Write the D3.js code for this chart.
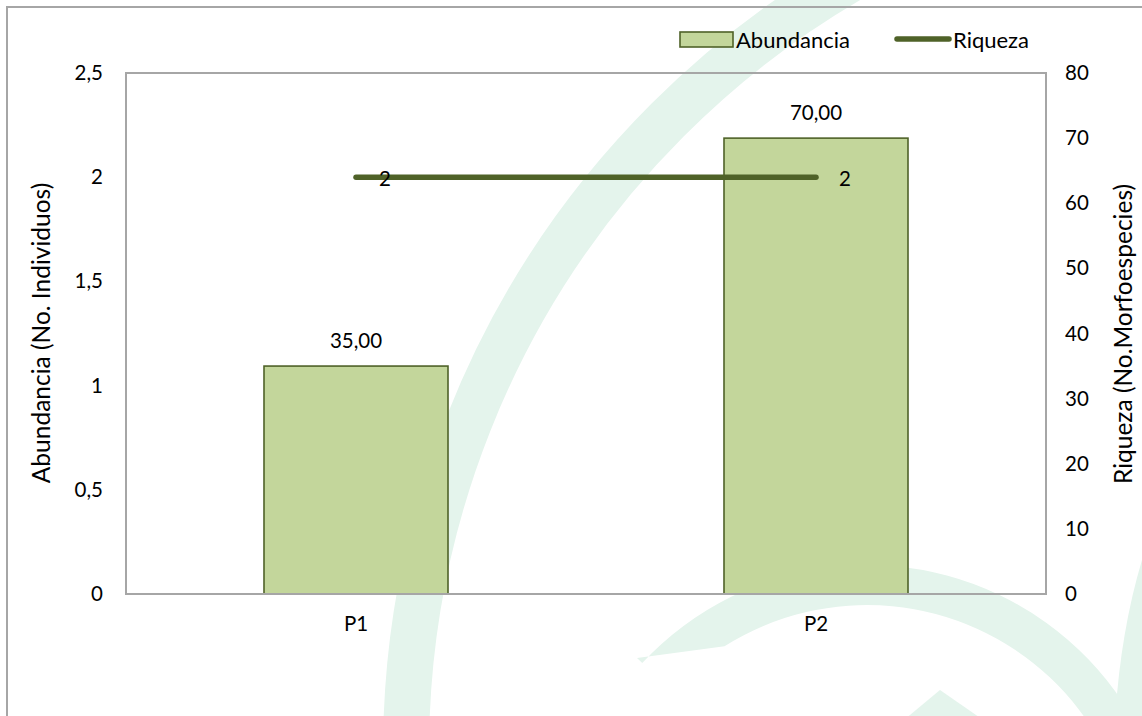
<!DOCTYPE html>
<html><head><meta charset="utf-8">
<script src="https://cdn.jsdelivr.net/npm/d3@7"></script>
<style>
html,body{margin:0;padding:0;background:#fff;}
svg{display:block;font-family:Lato, "Open Sans", sans-serif;}
</style></head>
<body>
<svg id="chart" width="1142" height="716"></svg>
<script>
const categories = ["P1", "P2"];
const abundancia = [35, 70];        // bars (right axis)
const riqueza = [2, 2];             // line (left axis)
const leftTicks = [0, 0.5, 1, 1.5, 2, 2.5];
const rightTicks = [0, 10, 20, 30, 40, 50, 60, 70, 80];
const leftTitle = "Abundancia (No. Individuos)";
const rightTitle = "Riqueza (No.Morfoespecies)";
const legendLabels = ["Abundancia", "Riqueza"];

const W = 1142, H = 716;
const plot = {l: 126, r: 1046, t: 73, b: 594};
const barFill = "#c3d69b", barStroke = "#4f6228", lineColor = "#4f6228";
const wm = "#e4f4ec";
const fs = 20.5, fsLegend = 22, fsTitle = 24.5;

const svg = d3.select("#chart");

// watermark decoration
const gW = svg.append("g");
gW.append("circle").attr("cx", 1300).attr("cy", 752).attr("r", 894)
  .attr("fill", "none").attr("stroke", wm).attr("stroke-width", 46);
(function(){
  const cx = 867, cy = 872, ro = 307, ri = 267;
  const p = d3.path();
  p.moveTo(637, 658);
  const a0 = Math.atan2(658 - cy, 637 - cx);
  p.arc(cx, cy, ro, a0, 0.5, false);
  p.lineTo(cx + ri * Math.cos(0.5), cy + ri * Math.sin(0.5));
  const a1 = Math.atan2(647 - cy, 725 - cx);
  p.arc(cx, cy, ri, 0.5, a1, true);
  p.closePath();
  gW.append("path").attr("d", p.toString()).attr("fill", wm);
})();
gW.append("path").attr("d", "M940,690 L1012,740 L880,740 Z").attr("fill", wm);
gW.append("path").attr("d", "M1142,560 Q1118,640 1114,740 L1160,740 L1160,560 Z").attr("fill", wm);

// outer border
svg.append("rect").attr("x", 7).attr("y", 7).attr("width", W + 20).attr("height", H + 20)
  .attr("fill", "none").attr("stroke", "#a6a6a6").attr("stroke-width", 2);

const x = d3.scaleBand().domain(categories).range([plot.l, plot.r])
  .paddingInner(0.6).paddingOuter(0.3);
const yL = d3.scaleLinear().domain([0, 2.5]).range([plot.b, plot.t]);
const yR = d3.scaleLinear().domain([0, 80]).range([plot.b, plot.t]);

const fmt = v => String(v).replace(".", ",");

// plot area border
svg.append("rect").attr("x", plot.l).attr("y", plot.t)
  .attr("width", plot.r - plot.l).attr("height", plot.b - plot.t)
  .attr("fill", "none").attr("stroke", "#a6a6a6").attr("stroke-width", 2);

// bars
svg.append("g").selectAll("rect").data(categories).join("rect")
  .attr("x", d => x(d)).attr("width", x.bandwidth())
  .attr("y", (d, i) => yR(abundancia[i]))
  .attr("height", (d, i) => yR(0) - yR(abundancia[i]))
  .attr("fill", barFill).attr("stroke", barStroke).attr("stroke-width", 1.6);

// bottom line of plot over bars
svg.append("line").attr("x1", plot.l).attr("x2", plot.r).attr("y1", plot.b).attr("y2", plot.b)
  .attr("stroke", "#a6a6a6").attr("stroke-width", 2);

// bar labels
svg.append("g").selectAll("text").data(categories).join("text")
  .attr("x", d => x(d) + x.bandwidth() / 2)
  .attr("y", (d, i) => yR(abundancia[i]) - 26)
  .attr("text-anchor", "middle").attr("dominant-baseline", "central")
  .attr("font-size", fs).attr("fill", "#000")
  .text((d, i) => abundancia[i].toFixed(2).replace(".", ","));

// line
const line = d3.line().x((d, i) => x(categories[i]) + x.bandwidth() / 2).y(d => yL(d));
svg.append("path").datum(riqueza).attr("d", line)
  .attr("fill", "none").attr("stroke", lineColor).attr("stroke-width", 5.5)
  .attr("stroke-linecap", "round");
svg.append("g").selectAll("text").data(riqueza).join("text")
  .attr("x", (d, i) => x(categories[i]) + x.bandwidth() / 2 + 29)
  .attr("y", d => yL(d) + 1)
  .attr("text-anchor", "middle").attr("dominant-baseline", "central")
  .attr("font-size", fs).attr("fill", "#000")
  .text(d => fmt(d));

// axes
const axL = svg.append("g").attr("transform", `translate(${plot.l},0)`)
  .call(d3.axisLeft(yL).tickValues(leftTicks).tickSize(0).tickPadding(23).tickFormat(fmt));
const axR = svg.append("g").attr("transform", `translate(${plot.r},0)`)
  .call(d3.axisRight(yR).tickValues(rightTicks).tickSize(0).tickPadding(19).tickFormat(d => d));
const axB = svg.append("g").attr("transform", `translate(0,${plot.b})`)
  .call(d3.axisBottom(x).tickSize(0).tickPadding(22));
[axL, axR, axB].forEach(a => {
  a.select(".domain").remove();
  a.selectAll("text").attr("font-size", fs).attr("font-family", "Lato, 'Open Sans', sans-serif").attr("fill", "#000");
});
axB.selectAll("text").attr("dy", "0.32em").attr("y", 30);

// axis titles
svg.append("text").attr("transform", "translate(40,333) rotate(-90)")
  .attr("text-anchor", "middle").attr("dominant-baseline", "central")
  .attr("font-size", fsTitle).text(leftTitle);
svg.append("text").attr("transform", "translate(1122,334) rotate(-90)")
  .attr("text-anchor", "middle").attr("dominant-baseline", "central")
  .attr("font-size", fsTitle).text(rightTitle);

// legend
const lg = svg.append("g");
lg.append("rect").attr("x", 680).attr("y", 32).attr("width", 53).attr("height", 15)
  .attr("fill", barFill).attr("stroke", barStroke).attr("stroke-width", 1.6);
lg.append("text").attr("x", 736).attr("y", 39.5).attr("dominant-baseline", "central")
  .attr("font-size", fsLegend).text(legendLabels[0]);
lg.append("line").attr("x1", 897).attr("x2", 949).attr("y1", 39).attr("y2", 39)
  .attr("stroke", lineColor).attr("stroke-width", 5.5).attr("stroke-linecap", "round");
lg.append("text").attr("x", 953).attr("y", 39.5).attr("dominant-baseline", "central")
  .attr("font-size", fsLegend).text(legendLabels[1]);
</script>
</body></html>
